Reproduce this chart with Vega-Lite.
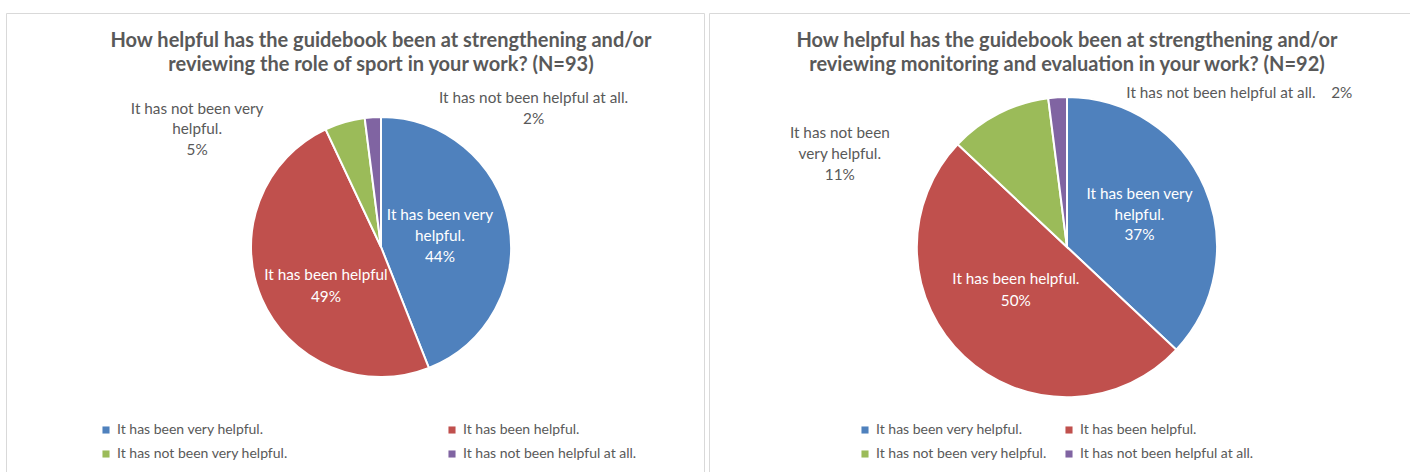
{
  "$schema": "https://vega.github.io/schema/vega-lite/v6.json",
  "background": "white",
  "padding": {"left": 5, "top": 12, "right": 0, "bottom": 0},
  "spacing": 3,
  "datasets": {
    "sport": [
      {"response": "It has been very helpful.", "pct": 44, "rank": 1, "label": "It has been very\nhelpful.\n44%"},
      {"response": "It has been helpful.", "pct": 49, "rank": 2, "label": "It has been helpful\n49%"},
      {"response": "It has not been very helpful.", "pct": 5, "rank": 3, "label": "It has not been very\nhelpful.\n5%"},
      {"response": "It has not been helpful at all.", "pct": 2, "rank": 4, "label": "It has not been helpful at all.\n2%"}
    ],
    "me": [
      {"response": "It has been very helpful.", "pct": 37, "rank": 1, "label": "It has been very\nhelpful.\n37%"},
      {"response": "It has been helpful.", "pct": 50, "rank": 2, "label": "It has been helpful.\n50%"},
      {"response": "It has not been very helpful.", "pct": 11, "rank": 3, "label": "It has not been\nvery helpful.\n11%"},
      {"response": "It has not been helpful at all.", "pct": 2, "rank": 4, "label": "It has not been helpful at all.\u00a0\u00a0\u00a0\u00a02%"}
    ]
  },
  "hconcat": [
    {
      "width": 698,
      "height": 460,
      "view": {"stroke": "#D9D9D9", "strokeWidth": 1},
      "data": {"name": "sport"},
      "title": {
        "text": ["How helpful has the guidebook been at strengthening and/or", "reviewing the role of sport in your work? (N=93)"],
        "anchor": "middle", "dx": 26, "offset": -62, "baseline": "top",
        "font": "Lato", "fontSize": 20, "fontWeight": "bold", "color": "#595959", "lineHeight": 24
      },
      "encoding": {
        "theta": {"field": "pct", "type": "quantitative", "stack": true},
        "order": {"field": "rank", "type": "quantitative"}
      },
      "layer": [
        {
          "mark": {"type": "arc", "outerRadius": 130, "x": 375, "y": 234, "stroke": "white", "strokeWidth": 2},
          "encoding": {
            "color": {
              "field": "response", "type": "nominal",
              "scale": {"domain": ["It has been very helpful.", "It has been helpful.", "It has not been very helpful.", "It has not been helpful at all."], "range": ["#4F81BD", "#C0504D", "#9BBB59", "#8064A2"]},
              "legend": {"orient": "none", "legendX": 93, "legendY": 410, "direction": "horizontal", "columns": 2, "columnPadding": 157, "rowPadding": 10, "title": null, "symbolType": "square", "symbolSize": 50, "symbolStrokeWidth": 0, "labelFont": "Lato", "labelFontSize": 14, "labelColor": "#595959", "labelOffset": 4, "labelLimit": 400}
            }
          }
        },
        {
          "mark": {"type": "text", "x": 375, "y": 234, "radius": 60, "dy": -21, "font": "Lato", "fontSize": 15.3, "fill": "white", "lineBreak": "\n", "lineHeight": 21, "align": "center", "baseline": "middle"},
          "encoding": {"detail": {"field": "response"}, "text": {"condition": {"test": "datum.rank === 1", "field": "label"}, "value": ""}}
        },
        {
          "mark": {"type": "text", "x": 375, "y": 234, "radius": 60, "dy": 4, "font": "Lato", "fontSize": 15.3, "fill": "white", "lineBreak": "\n", "lineHeight": 22, "align": "center", "baseline": "middle"},
          "encoding": {"detail": {"field": "response"}, "text": {"condition": {"test": "datum.rank === 2", "field": "label"}, "value": ""}}
        },
        {
          "mark": {"type": "text", "x": 375, "y": 234, "radius": 150, "dx": -142, "dy": 6, "font": "Lato", "fontSize": 15.3, "fill": "#595959", "lineBreak": "\n", "lineHeight": 20.5, "align": "center", "baseline": "middle"},
          "encoding": {"detail": {"field": "response"}, "text": {"condition": {"test": "datum.rank === 3", "field": "label"}, "value": ""}}
        },
        {
          "mark": {"type": "text", "x": 375, "y": 234, "radius": 150, "dx": 162, "dy": 1, "font": "Lato", "fontSize": 15.3, "fill": "#595959", "lineBreak": "\n", "lineHeight": 21, "align": "center", "baseline": "middle"},
          "encoding": {"detail": {"field": "response"}, "text": {"condition": {"test": "datum.rank === 4", "field": "label"}, "value": ""}}
        }
      ]
    },
    {
      "width": 704,
      "height": 460,
      "view": {"stroke": "#D9D9D9", "strokeWidth": 1},
      "data": {"name": "me"},
      "title": {
        "text": ["How helpful has the guidebook been at strengthening and/or", "reviewing monitoring and evaluation in your work? (N=92)"],
        "anchor": "middle", "dx": 6, "offset": -62, "baseline": "top",
        "font": "Lato", "fontSize": 20, "fontWeight": "bold", "color": "#595959", "lineHeight": 24
      },
      "encoding": {
        "theta": {"field": "pct", "type": "quantitative", "stack": true},
        "order": {"field": "rank", "type": "quantitative"}
      },
      "layer": [
        {
          "mark": {"type": "arc", "outerRadius": 150, "x": 358, "y": 234, "stroke": "white", "strokeWidth": 2},
          "encoding": {
            "color": {
              "field": "response", "type": "nominal",
              "scale": {"domain": ["It has been very helpful.", "It has been helpful.", "It has not been very helpful.", "It has not been helpful at all."], "range": ["#4F81BD", "#C0504D", "#9BBB59", "#8064A2"]},
              "legend": {"orient": "none", "legendX": 149, "legendY": 410, "direction": "horizontal", "columns": 2, "columnPadding": 15, "rowPadding": 10, "title": null, "symbolType": "square", "symbolSize": 50, "symbolStrokeWidth": 0, "labelFont": "Lato", "labelFontSize": 14, "labelColor": "#595959", "labelOffset": 4, "labelLimit": 400}
            }
          }
        },
        {
          "mark": {"type": "text", "x": 358, "y": 234, "radius": 79, "dy": -21.5, "font": "Lato", "fontSize": 15.3, "fill": "white", "lineBreak": "\n", "lineHeight": 20.5, "align": "center", "baseline": "middle"},
          "encoding": {"detail": {"field": "response"}, "text": {"condition": {"test": "datum.rank === 1", "field": "label"}, "value": ""}}
        },
        {
          "mark": {"type": "text", "x": 358, "y": 234, "radius": 63, "dx": -8, "dy": -14, "font": "Lato", "fontSize": 15.3, "fill": "white", "lineBreak": "\n", "lineHeight": 22, "align": "center", "baseline": "middle"},
          "encoding": {"detail": {"field": "response"}, "text": {"condition": {"test": "datum.rank === 2", "field": "label"}, "value": ""}}
        },
        {
          "mark": {"type": "text", "x": 358, "y": 234, "radius": 170, "dx": -150, "dy": 37, "font": "Lato", "fontSize": 15.3, "fill": "#595959", "lineBreak": "\n", "lineHeight": 21, "align": "center", "baseline": "middle"},
          "encoding": {"detail": {"field": "response"}, "text": {"condition": {"test": "datum.rank === 3", "field": "label"}, "value": ""}}
        },
        {
          "mark": {"type": "text", "x": 358, "y": 234, "radius": 170, "dx": 70, "dy": 16, "font": "Lato", "fontSize": 15.3, "fill": "#595959", "lineBreak": "\n", "align": "left", "baseline": "middle"},
          "encoding": {"detail": {"field": "response"}, "text": {"condition": {"test": "datum.rank === 4", "field": "label"}, "value": ""}}
        }
      ]
    }
  ],
  "resolve": {"scale": {"color": "independent", "theta": "independent"}, "legend": {"color": "independent"}},
  "config": {
    "view": {"stroke": "#D9D9D9", "strokeWidth": 1},
    "text": {"font": "Lato"}
  }
}
